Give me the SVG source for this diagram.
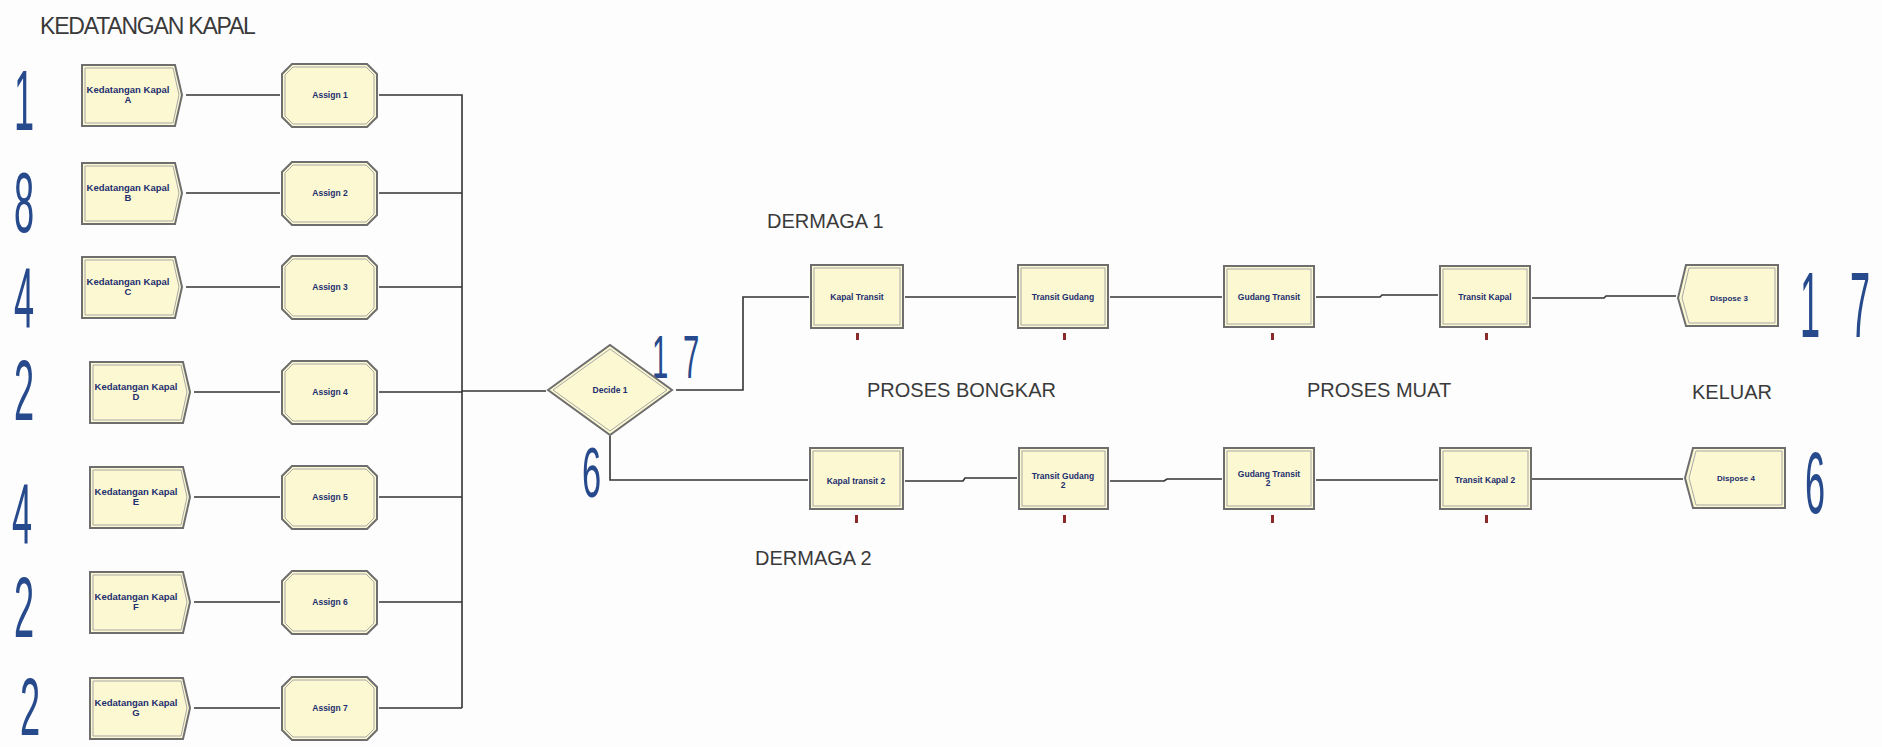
<svg xmlns="http://www.w3.org/2000/svg" width="1882" height="747" viewBox="0 0 1882 747">
<style>
.bg{fill:#fdfdfd}
.shape{fill:#fcf8d2;stroke:#6e6e6e;stroke-width:2}
.inner{fill:none;stroke:#a8a8a8;stroke-width:1}
.lbl{font-family:"Liberation Sans",Arial,sans-serif;font-weight:bold;fill:#1d2f6e;text-anchor:middle}
.cap{font-family:"Liberation Sans",Arial,sans-serif;fill:#3a3a3a;font-size:20px}
.num{font-family:"Liberation Sans",Arial,sans-serif;fill:#264a8c;font-size:86px}
.tick{fill:#8a2a2a}
.conn path{fill:none;stroke:#333;stroke-width:1.6}
</style>
<rect class="bg" width="1882" height="747"/>

<text class="cap" x="40" y="34" style="font-size:23px;letter-spacing:-1.2px">KEDATANGAN KAPAL</text>
<text class="cap" x="767" y="228">DERMAGA 1</text>
<text class="cap" x="867" y="397">PROSES BONGKAR</text>
<text class="cap" x="1307" y="397">PROSES MUAT</text>
<text class="cap" x="1692" y="399">KELUAR</text>
<text class="cap" x="755" y="565">DERMAGA 2</text>

<g id="counts">
<text class="num" transform="translate(14,130) scale(0.42,1)">1</text>
<text class="num" transform="translate(14,232) scale(0.42,1)">8</text>
<text class="num" transform="translate(14,327) scale(0.42,1)">4</text>
<text class="num" transform="translate(14,420) scale(0.42,1)">2</text>
<text class="num" transform="translate(12,543) scale(0.42,1)">4</text>
<text class="num" transform="translate(14,637) scale(0.42,1)">2</text>
<text class="num" transform="translate(20,735) scale(0.42,0.95)">2</text>
<text class="num" transform="translate(652,378) scale(0.34,0.72)">1</text>
<text class="num" transform="translate(683,378) scale(0.34,0.72)">7</text>
<text class="num" transform="translate(582,497) scale(0.4,0.82)">6</text>
<text class="num" transform="translate(1800,337) scale(0.42,1.08)">1</text>
<text class="num" transform="translate(1850,337) scale(0.42,1.08)">7</text>
<text class="num" transform="translate(1805,513) scale(0.42,1.02)">6</text>
</g>

<g class="conn" id="connectors">
<path d="M186,95 H280 M379,95 H462 V708"/>
<path d="M186,193 H280 M379,193 H462"/>
<path d="M186,287 H280 M379,287 H462"/>
<path d="M194,392 H280 M379,392 H462"/>
<path d="M194,497 H280 M379,497 H462"/>
<path d="M194,602 H280 M379,602 H462"/>
<path d="M194,708 H280 M379,708 H462"/>
<path d="M462,391 H546"/>
<path d="M676,390 H743 V297 H809"/>
<path d="M610,436 V480 H808"/>
<path d="M905,297 H1016"/>
<path d="M1110,297 H1222"/>
<path d="M1316,297 H1380 L1382,295 H1438"/>
<path d="M1532,298 H1604 L1606,296 H1676"/>
<path d="M905,481 H963 L965,478 H1017"/>
<path d="M1110,481 H1164 L1167,479 H1222"/>
<path d="M1316,480 H1438"/>
<path d="M1532,479 H1683"/>
</g>

<g id="create-a"><path class="shape" d="M82,65 H175 L182,95 L175,126 H82 Z"/><path class="inner" d="M85,68 H173 L179,95 L173,123 H85 Z"/><text class="lbl" x="128" y="93" font-size="9.5">Kedatangan Kapal</text><text class="lbl" x="128" y="103" font-size="9.5">A</text></g>
<g id="create-b"><path class="shape" d="M82,163 H175 L182,193 L175,224 H82 Z"/><path class="inner" d="M85,166 H173 L179,193 L173,221 H85 Z"/><text class="lbl" x="128" y="191" font-size="9.5">Kedatangan Kapal</text><text class="lbl" x="128" y="201" font-size="9.5">B</text></g>
<g id="create-c"><path class="shape" d="M82,257 H175 L182,287 L175,318 H82 Z"/><path class="inner" d="M85,260 H173 L179,287 L173,315 H85 Z"/><text class="lbl" x="128" y="285" font-size="9.5">Kedatangan Kapal</text><text class="lbl" x="128" y="295" font-size="9.5">C</text></g>
<g id="create-d"><path class="shape" d="M90,362 H183 L190,392 L183,423 H90 Z"/><path class="inner" d="M93,365 H181 L187,392 L181,420 H93 Z"/><text class="lbl" x="136" y="390" font-size="9.5">Kedatangan Kapal</text><text class="lbl" x="136" y="400" font-size="9.5">D</text></g>
<g id="create-e"><path class="shape" d="M90,467 H183 L190,497 L183,528 H90 Z"/><path class="inner" d="M93,470 H181 L187,497 L181,525 H93 Z"/><text class="lbl" x="136" y="495" font-size="9.5">Kedatangan Kapal</text><text class="lbl" x="136" y="505" font-size="9.5">E</text></g>
<g id="create-f"><path class="shape" d="M90,572 H183 L190,602 L183,633 H90 Z"/><path class="inner" d="M93,575 H181 L187,602 L181,630 H93 Z"/><text class="lbl" x="136" y="600" font-size="9.5">Kedatangan Kapal</text><text class="lbl" x="136" y="610" font-size="9.5">F</text></g>
<g id="create-g"><path class="shape" d="M90,678 H183 L190,708 L183,739 H90 Z"/><path class="inner" d="M93,681 H181 L187,708 L181,736 H93 Z"/><text class="lbl" x="136" y="706" font-size="9.5">Kedatangan Kapal</text><text class="lbl" x="136" y="716" font-size="9.5">G</text></g>

<g id="assign-1"><path class="shape" d="M292,64 H367 L377,74 V117 L367,127 H292 L282,117 V74 Z"/><path class="inner" d="M293,67 H366 L374,75 V116 L366,124 H293 L285,116 V75 Z"/><text class="lbl" x="330" y="98" font-size="8.5">Assign 1</text></g>
<g id="assign-2"><path class="shape" d="M292,162 H367 L377,172 V215 L367,225 H292 L282,215 V172 Z"/><path class="inner" d="M293,165 H366 L374,173 V214 L366,222 H293 L285,214 V173 Z"/><text class="lbl" x="330" y="196" font-size="8.5">Assign 2</text></g>
<g id="assign-3"><path class="shape" d="M292,256 H367 L377,266 V309 L367,319 H292 L282,309 V266 Z"/><path class="inner" d="M293,259 H366 L374,267 V308 L366,316 H293 L285,308 V267 Z"/><text class="lbl" x="330" y="290" font-size="8.5">Assign 3</text></g>
<g id="assign-4"><path class="shape" d="M292,361 H367 L377,371 V414 L367,424 H292 L282,414 V371 Z"/><path class="inner" d="M293,364 H366 L374,372 V413 L366,421 H293 L285,413 V372 Z"/><text class="lbl" x="330" y="395" font-size="8.5">Assign 4</text></g>
<g id="assign-5"><path class="shape" d="M292,466 H367 L377,476 V519 L367,529 H292 L282,519 V476 Z"/><path class="inner" d="M293,469 H366 L374,477 V518 L366,526 H293 L285,518 V477 Z"/><text class="lbl" x="330" y="500" font-size="8.5">Assign 5</text></g>
<g id="assign-6"><path class="shape" d="M292,571 H367 L377,581 V624 L367,634 H292 L282,624 V581 Z"/><path class="inner" d="M293,574 H366 L374,582 V623 L366,631 H293 L285,623 V582 Z"/><text class="lbl" x="330" y="605" font-size="8.5">Assign 6</text></g>
<g id="assign-7"><path class="shape" d="M292,677 H367 L377,687 V730 L367,740 H292 L282,730 V687 Z"/><path class="inner" d="M293,680 H366 L374,688 V729 L366,737 H293 L285,729 V688 Z"/><text class="lbl" x="330" y="711" font-size="8.5">Assign 7</text></g>

<g id="decide-1"><path class="shape" d="M548,390 L610,345 L672,390 L610,435 Z"/><path class="inner" d="M553,390 L610,349 L667,390 L610,431 Z"/><text class="lbl" x="610" y="393" font-size="8.5">Decide 1</text></g>

<g id="kapal-transit"><rect class="shape" x="811" y="265" width="92" height="63"/><rect class="inner" x="814" y="268" width="86" height="57"/><text class="lbl" x="857" y="300" font-size="8.5">Kapal Transit</text><rect class="tick" x="856" y="333" width="3" height="7"/></g>
<g id="transit-gudang"><rect class="shape" x="1018" y="265" width="90" height="63"/><rect class="inner" x="1021" y="268" width="84" height="57"/><text class="lbl" x="1063" y="300" font-size="8.5">Transit Gudang</text><rect class="tick" x="1063" y="333" width="3" height="7"/></g>
<g id="gudang-transit"><rect class="shape" x="1224" y="266" width="90" height="61"/><rect class="inner" x="1227" y="269" width="84" height="55"/><text class="lbl" x="1269" y="300" font-size="8.5">Gudang Transit</text><rect class="tick" x="1271" y="333" width="3" height="7"/></g>
<g id="transit-kapal"><rect class="shape" x="1440" y="266" width="90" height="61"/><rect class="inner" x="1443" y="269" width="84" height="55"/><text class="lbl" x="1485" y="300" font-size="8.5">Transit Kapal</text><rect class="tick" x="1485" y="333" width="3" height="7"/></g>
<g id="dispose-3"><path class="shape" d="M1686,265 H1778 V326 H1686 L1678,298 Z"/><path class="inner" d="M1689,268 H1775 V323 H1689 L1682,298 Z"/><text class="lbl" x="1729" y="301" font-size="8">Dispose 3</text></g>

<g id="kapal-transit-2"><rect class="shape" x="810" y="448" width="93" height="61"/><rect class="inner" x="813" y="451" width="87" height="55"/><text class="lbl" x="856" y="484" font-size="8.5">Kapal transit 2</text><rect class="tick" x="855" y="515" width="3" height="8"/></g>
<g id="transit-gudang-2"><rect class="shape" x="1019" y="448" width="89" height="61"/><rect class="inner" x="1022" y="451" width="83" height="55"/><text class="lbl" x="1063" y="479" font-size="8.5">Transit Gudang</text><text class="lbl" x="1063" y="488" font-size="8.5">2</text><rect class="tick" x="1063" y="515" width="3" height="8"/></g>
<g id="gudang-transit-2"><rect class="shape" x="1224" y="448" width="90" height="61"/><rect class="inner" x="1227" y="451" width="84" height="55"/><text class="lbl" x="1269" y="477" font-size="8.5">Gudang Transit</text><text class="lbl" x="1268" y="486" font-size="8.5">2</text><rect class="tick" x="1271" y="515" width="3" height="8"/></g>
<g id="transit-kapal-2"><rect class="shape" x="1440" y="448" width="91" height="61"/><rect class="inner" x="1443" y="451" width="85" height="55"/><text class="lbl" x="1485" y="483" font-size="8.5">Transit Kapal 2</text><rect class="tick" x="1485" y="515" width="3" height="8"/></g>
<g id="dispose-4"><path class="shape" d="M1693,448 H1785 V508 H1693 L1685,478 Z"/><path class="inner" d="M1696,451 H1782 V505 H1696 L1689,478 Z"/><text class="lbl" x="1736" y="481" font-size="8">Dispose 4</text></g>
</svg>
